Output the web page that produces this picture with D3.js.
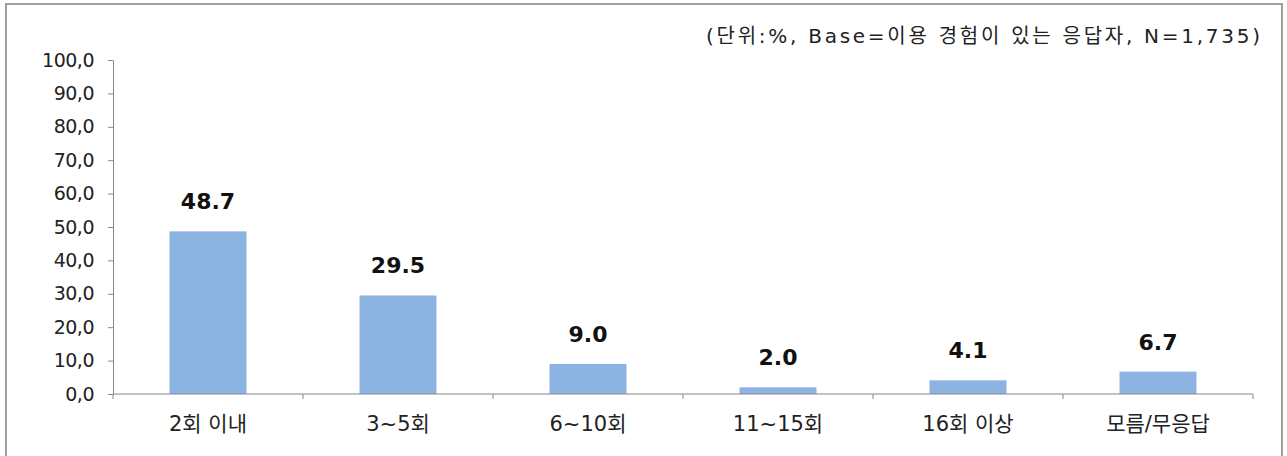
<!DOCTYPE html>
<html><head><meta charset="utf-8">
<script src="https://cdn.jsdelivr.net/npm/d3@7"></script>
<style>
html,body{margin:0;padding:0;background:#fff;}
svg{display:block;}
text{font-family:"DejaVu Sans","Noto Sans CJK KR",sans-serif;}
</style></head>
<body>
<svg id="c" width="1287" height="456"></svg>
<script>
const categories = ["2회 이내","3~5회","6~10회","11~15회","16회 이상","모름/무응답"];
const values = [48.7, 29.5, 9.0, 2.0, 4.1, 6.7];
const yTicks = [0,10,20,30,40,50,60,70,80,90,100];
const note = "(단위:%, Base=이용 경험이 있는 응답자, N=1,735)";

const FONT = "'DejaVu Sans','Noto Sans CJK KR',sans-serif";
const svg = d3.select("#c");
// frame
svg.append("rect").attr("x",6).attr("y",4).attr("width",1276).attr("height",460)
  .attr("fill","#fff").attr("stroke","#a0a0a0").attr("stroke-width",2);

const x0 = 113, x1 = 1253, yTop = 60, yBot = 394;
const x = d3.scaleBand().domain(categories).range([x0,x1]).paddingInner(0.595).paddingOuter(0.2975);
const y = d3.scaleLinear().domain([0,100]).range([yBot,yTop]);

// bars
svg.selectAll("rect.bar").data(values).enter().append("rect").attr("class","bar")
  .attr("x",(d,i)=>x(categories[i])).attr("width",x.bandwidth())
  .attr("y",d=>y(d)).attr("height",d=>yBot-y(d)).attr("fill","#8db3e2");

// y axis
const yAxis = d3.axisLeft(y).tickValues(yTicks).tickSize(5).tickSizeOuter(0)
  .tickFormat(d=>d3.format(".1f")(d).replace(".",","));
const gy = svg.append("g").attr("transform",`translate(${x0},0)`).call(yAxis);
gy.attr("font-family",FONT);
gy.select(".domain").attr("stroke","#888");
gy.selectAll(".tick line").attr("stroke","#888");
gy.selectAll(".tick text").attr("font-size",19).attr("fill","#222").attr("x",-19)
  .attr("letter-spacing",-0.5);

// x axis baseline with ticks at category boundaries
const boundaries = d3.range(categories.length+1).map(i=>x0+i*(x1-x0)/categories.length);
svg.append("line").attr("x1",x0).attr("x2",x1).attr("y1",yBot).attr("y2",yBot).attr("stroke","#888");
svg.selectAll("line.xt").data(boundaries).enter().append("line").attr("class","xt")
  .attr("x1",d=>d).attr("x2",d=>d).attr("y1",yBot).attr("y2",yBot+5).attr("stroke","#888");

// category labels
svg.selectAll("text.cat").data(categories).enter().append("text").attr("class","cat")
  .attr("x",d=>x(d)+x.bandwidth()/2).attr("y",431).attr("text-anchor","middle")
  .attr("font-size",21).attr("fill","#222").text(d=>d);

// value labels
svg.selectAll("text.val").data(values).enter().append("text").attr("class","val")
  .attr("x",(d,i)=>x(categories[i])+x.bandwidth()/2).attr("y",d=>y(d)-22)
  .attr("text-anchor","middle").attr("font-size",22).attr("font-weight","bold")
  .attr("font-family","'DejaVu Sans',sans-serif").attr("fill","#111").attr("letter-spacing",0)
  .text(d=>d3.format(".1f")(d));

// note
svg.append("text").attr("x",706).attr("y",43)
  .attr("font-size",20).attr("fill","#222").attr("textLength",554).attr("lengthAdjust","spacing")
  .text(note);
</script>
</body></html>
